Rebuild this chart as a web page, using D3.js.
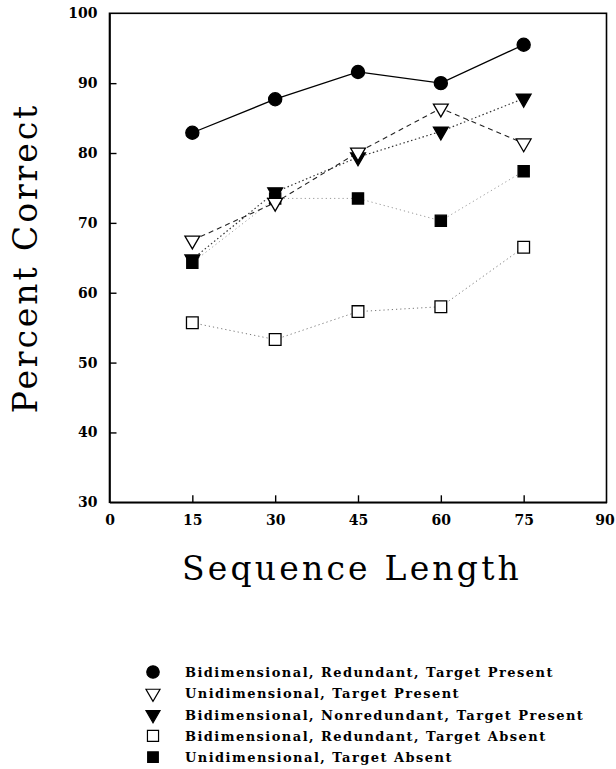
<!DOCTYPE html>
<html>
<head>
<meta charset="utf-8">
<script src="https://cdn.jsdelivr.net/npm/d3@7"></script>
<style>
  html, body { margin: 0; padding: 0; background: #fff; overflow: hidden; }
  svg { display: block; }
</style>
</head>
<body>
<div id="chart"></div>
<script>
// sequence lengths on the x axis
const lengths = [15, 30, 45, 60, 75]

// percent correct, one array per condition
const biRedPresent = [82.9, 87.7, 91.6, 90.0, 95.5]
const uniPresent = [67.5, 72.9, 80.1, 86.4, 81.4]
const biNonredPresent = [64.8, 74.4, 79.4, 83.1, 87.8]
const biRedAbsent = [55.7, 53.3, 57.3, 58.0, 66.5]
const uniAbsent = [64.3, 73.5, 73.5, 70.3, 77.4]

const xTicks = [0, 15, 30, 45, 60, 75, 90]
const yTicks = [30, 40, 50, 60, 70, 80, 90, 100]

const labels = [
  "Bidimensional, Redundant, Target Present",
  "Unidimensional, Target Present",
  "Bidimensional, Nonredundant, Target Present",
  "Bidimensional, Redundant, Target Absent",
  "Unidimensional, Target Absent"
]

const chartW = 616
const chartH = 769
const margin = { left: 109.5, right: 9.5, top: 13.3, bottom: 266.7 }
const plotW = chartW - margin.left - margin.right
const plotH = chartH - margin.top - margin.bottom

// drawing order: lighter dotted lines first
const series = [
  { values: biRedAbsent, label: labels[3], shape: d3.symbolSquare, size: 137, fill: "#fff", line: "#777", dash: "1.2,3", lw: 1 },
  { values: uniAbsent, label: labels[4], shape: d3.symbolSquare, size: 125, fill: "#000", line: "#999", dash: "1.2,3", lw: 1 },
  { values: biNonredPresent, label: labels[2], shape: d3.symbolTriangle, size: 95, fill: "#000", line: "#333", dash: "1.5,2.5", lw: 1.2, flip: true },
  { values: uniPresent, label: labels[1], shape: d3.symbolTriangle, size: 95, fill: "#fff", line: "#222", dash: "5,4", lw: 1.1, flip: true },
  { values: biRedPresent, label: labels[0], shape: d3.symbolCircle, size: 135, fill: "#000", line: "#000", dash: null, lw: 1.3 }
]

const svg = d3.select("#chart").append("svg")
  .attr("width", chartW)
  .attr("height", chartH)

const g = svg.append("g")
  .attr("transform", "translate(" + margin.left + "," + margin.top + ")")

const xScale = d3.scaleLinear().domain([0, 90]).range([0, plotW])
const yScale = d3.scaleLinear().domain([30, 100]).range([plotH, 0])

// frame
g.append("rect")
  .attr("width", plotW)
  .attr("height", plotH)
  .attr("fill", "none")
  .attr("stroke", "#000")
  .attr("stroke-width", 1.6)

const xAxis = d3.axisBottom(xScale)
  .tickValues(xTicks)
  .tickSizeInner(-7)
  .tickSizeOuter(0)
  .tickPadding(13)
  .tickFormat(d3.format("d"))

const yAxis = d3.axisLeft(yScale)
  .tickValues(yTicks)
  .tickSizeInner(-7)
  .tickSizeOuter(0)
  .tickPadding(12)
  .tickFormat(d3.format("d"))

const xAxisG = g.append("g")
  .attr("transform", "translate(0," + plotH + ")")
  .call(xAxis)
const yAxisG = g.append("g").call(yAxis)

;[xAxisG, yAxisG].forEach(a => {
  a.attr("font-family", "'DejaVu Serif', serif")
    .attr("font-size", 14)
    .attr("font-weight", "bold")
  a.select(".domain").attr("stroke-width", 1.6)
  a.selectAll(".tick line").attr("stroke-width", 1.4)
  a.selectAll(".tick text").attr("fill", "#000")
})
// hide end ticks that sit on the frame
xAxisG.selectAll(".tick line").filter(d => d === 0 || d === 90).remove()
yAxisG.selectAll(".tick line").filter(d => d === 30 || d === 100).remove()
// keep the last x label inside the page
xAxisG.selectAll(".tick text").filter(d => d === 90).attr("dx", -2)

const line = d3.line()
  .x((d, i) => xScale(lengths[i]))
  .y(d => yScale(d))

series.forEach(s => {
  g.append("path")
    .datum(s.values)
    .attr("fill", "none")
    .attr("stroke", s.line)
    .attr("stroke-width", s.lw)
    .attr("stroke-dasharray", s.dash)
    .attr("d", line)
})

series.forEach(s => {
  g.selectAll(null)
    .data(s.values)
    .enter().append("path")
    .attr("d", d3.symbol().type(s.shape).size(s.size))
    .attr("transform", (d, i) => "translate(" + xScale(lengths[i]) + "," + yScale(d) + ")" + (s.flip ? " rotate(180)" : ""))
    .attr("fill", s.fill)
    .attr("stroke", "#000")
    .attr("stroke-width", 1.3)
})

// axis titles
svg.append("text")
  .attr("transform", "translate(37,258) rotate(-90)")
  .attr("text-anchor", "middle")
  .attr("font-family", "'DejaVu Serif', serif")
  .attr("font-size", 33)
  .attr("letter-spacing", 2.9)
  .text("Percent Correct")

svg.append("text")
  .attr("x", 352)
  .attr("y", 580)
  .attr("text-anchor", "middle")
  .attr("font-family", "'DejaVu Serif', serif")
  .attr("font-size", 33)
  .attr("letter-spacing", 3.2)
  .text("Sequence Length")

// legend
const legendOrder = [4, 3, 2, 0, 1]
const legend = svg.append("g").attr("transform", "translate(0,672)")
legendOrder.forEach((si, row) => {
  const s = series[si]
  const item = legend.append("g").attr("transform", "translate(0," + (row * 21.3) + ")")
  item.append("path")
    .attr("d", d3.symbol().type(s.shape).size(s.size * 0.9))
    .attr("transform", "translate(153,0)" + (s.flip ? " rotate(180)" : ""))
    .attr("fill", s.fill)
    .attr("stroke", "#000")
    .attr("stroke-width", 1.2)
  item.append("text")
    .attr("x", 185)
    .attr("y", 5)
    .attr("font-family", "'DejaVu Serif', serif")
    .attr("font-weight", "bold")
    .attr("font-size", 13)
    .attr("letter-spacing", 1.45)
    .text(s.label)
})
</script>
</body>
</html>
